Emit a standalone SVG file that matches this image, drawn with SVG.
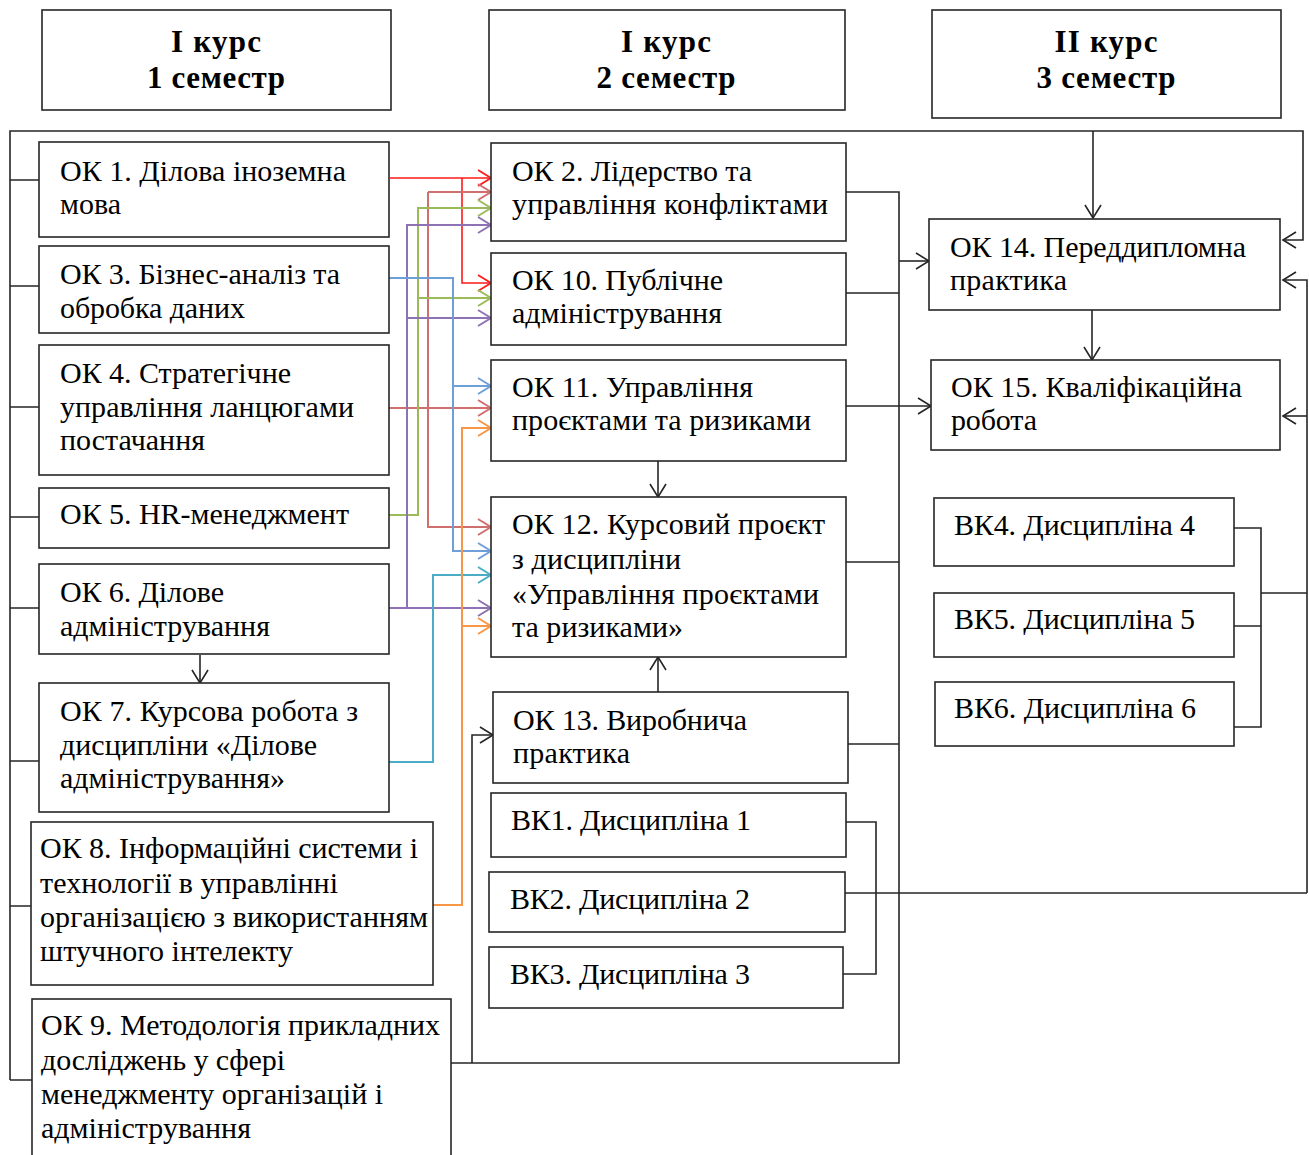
<svg xmlns="http://www.w3.org/2000/svg" width="1309" height="1155" viewBox="0 0 1309 1155">
<style>
.box{fill:#fff;stroke:#262626;stroke-width:1.6}
.t{font-family:"Liberation Serif","Times New Roman",serif;font-size:30px;fill:#000}
.h{font-family:"Liberation Serif","Times New Roman",serif;font-size:31px;font-weight:bold;fill:#000;text-anchor:middle}
.c{fill:none;stroke-width:1.6}
.k{stroke:#262626}
.r{stroke:#ff1a1a;marker-end:url(#ar)}
.dr{stroke:#d0706e;stroke-width:2;marker-end:url(#adr)}
.g{stroke:#9bbb59;stroke-width:2}
.p{stroke:#8e72b4;stroke-width:2}
.b{stroke:#6f9fd8;stroke-width:2}
.cy{stroke:#4bacc6;stroke-width:2}
.o{stroke:#f79646;stroke-width:2}
</style>
<defs>
<marker id="ak" markerUnits="userSpaceOnUse" markerWidth="16" markerHeight="20" refX="14" refY="9" orient="auto"><path d="M1,1 L14,9 L1,17" fill="none" stroke="#262626" stroke-width="1.6"/></marker>
<marker id="ar" markerUnits="userSpaceOnUse" markerWidth="16" markerHeight="20" refX="14" refY="9" orient="auto"><path d="M1,1 L14,9 L1,17" fill="none" stroke="#ff1a1a" stroke-width="1.8"/></marker>
<marker id="adr" markerUnits="userSpaceOnUse" markerWidth="16" markerHeight="20" refX="14" refY="9" orient="auto"><path d="M1,1 L14,9 L1,17" fill="none" stroke="#d0706e" stroke-width="2"/></marker>
<marker id="ag" markerUnits="userSpaceOnUse" markerWidth="16" markerHeight="20" refX="14" refY="9" orient="auto"><path d="M1,1 L14,9 L1,17" fill="none" stroke="#9bbb59" stroke-width="2"/></marker>
<marker id="ap" markerUnits="userSpaceOnUse" markerWidth="16" markerHeight="20" refX="14" refY="9" orient="auto"><path d="M1,1 L14,9 L1,17" fill="none" stroke="#8e72b4" stroke-width="2"/></marker>
<marker id="ab" markerUnits="userSpaceOnUse" markerWidth="16" markerHeight="20" refX="14" refY="9" orient="auto"><path d="M1,1 L14,9 L1,17" fill="none" stroke="#6f9fd8" stroke-width="2"/></marker>
<marker id="acy" markerUnits="userSpaceOnUse" markerWidth="16" markerHeight="20" refX="14" refY="9" orient="auto"><path d="M1,1 L14,9 L1,17" fill="none" stroke="#4bacc6" stroke-width="2"/></marker>
<marker id="ao" markerUnits="userSpaceOnUse" markerWidth="16" markerHeight="20" refX="14" refY="9" orient="auto"><path d="M1,1 L14,9 L1,17" fill="none" stroke="#f79646" stroke-width="2"/></marker>
</defs>
<rect width="1309" height="1155" fill="#fff"/>

<g id="connectors">
  <path class="c k" d="M10,1080 V131 H1303 V240 H1283" marker-end="url(#ak)"/>
  <path class="c k" d="M1093,131 V218" marker-end="url(#ak)"/>
  <path class="c k" d="M10,180 H39 M10,286 H39 M10,407 H39 M10,517 H39 M10,608 H39 M10,761 H39 M10,906 H31 M10,1080 H32"/>
  <path class="c k" d="M1307,893 V280 H1283" marker-end="url(#ak)"/>
  <path class="c k" d="M1307,416 H1283" marker-end="url(#ak)"/>
  <path class="c k" d="M845,893 H1307"/>
  <path class="c k" d="M1234,528 H1261 V727 H1234 M1234,626 H1261 M1261,593 H1307"/>
  <path class="c k" d="M846,192 H899 V1063 H451 M846,293 H899 M846,562 H899 M848,744 H899"/>
  <path class="c k" d="M899,261 H929" marker-end="url(#ak)"/>
  <path class="c k" d="M846,406 H931" marker-end="url(#ak)"/>
  <path class="c k" d="M658,461 V497" marker-end="url(#ak)"/>
  <path class="c k" d="M658,692 V657" marker-end="url(#ak)"/>
  <path class="c k" d="M1092,310 V360" marker-end="url(#ak)"/>
  <path class="c k" d="M200,655 V683" marker-end="url(#ak)"/>
  <path class="c k" d="M846,822 H876 V974 H843"/>
  <path class="c k" d="M472,1063 V735 H493" marker-end="url(#ak)"/>
  <path class="c r" d="M390,178 H491"/>
  <path class="c r" d="M462,178 V283 H491"/>
  <path class="c dr" d="M428,192 H491"/>
  <path class="c dr" d="M428,192 V527 H491"/>
  <path class="c dr" d="M389,408 H491"/>
  <path class="c g" d="M389,515 H418 V208 H491" marker-end="url(#ag)"/>
  <path class="c g" d="M418,298 H491" marker-end="url(#ag)"/>
  <path class="c p" d="M389,608 H491" marker-end="url(#ap)"/>
  <path class="c p" d="M407,608 V225 H491" marker-end="url(#ap)"/>
  <path class="c p" d="M407,318 H491" marker-end="url(#ap)"/>
  <path class="c b" d="M386,278 H453 V551 H491" marker-end="url(#ab)"/>
  <path class="c b" d="M453,386 H491" marker-end="url(#ab)"/>
  <path class="c cy" d="M389,762 H433 V575 H491" marker-end="url(#acy)"/>
  <path class="c o" d="M433,905 H462 V428 H491" marker-end="url(#ao)"/>
  <path class="c o" d="M462,626 H491" marker-end="url(#ao)"/>
</g>

<g id="h1"><rect class="box" x="42" y="10" width="349" height="100"/><text class="h" x="216" y="52" textLength="90">І курс</text><text class="h" x="216" y="88" textLength="138">1 семестр</text></g>
<g id="h2"><rect class="box" x="489" y="10" width="356" height="100"/><text class="h" x="666" y="52" textLength="90">І курс</text><text class="h" x="666" y="88" textLength="139">2 семестр</text></g>
<g id="h3"><rect class="box" x="932" y="10" width="349" height="108"/><text class="h" x="1106" y="52" textLength="103">ІІ курс</text><text class="h" x="1106" y="88" textLength="139">3 семестр</text></g>

<g id="ok1"><rect class="box" x="39" y="142" width="350" height="95"/><text class="t" x="60" y="181" textLength="286">ОК 1. Ділова іноземна</text><text class="t" x="60" y="214">мова</text></g>
<g id="ok3"><rect class="box" x="39" y="246" width="350" height="87"/><text class="t" x="60" y="284" textLength="280">ОК 3. Бізнес-аналіз та</text><text class="t" x="60" y="318" textLength="185">обробка даних</text></g>
<g id="ok4"><rect class="box" x="39" y="345" width="350" height="130"/><text class="t" x="60" y="383" textLength="231">ОК 4. Стратегічне</text><text class="t" x="60" y="417" textLength="294">управління ланцюгами</text><text class="t" x="60" y="450" textLength="145">постачання</text></g>
<g id="ok5"><rect class="box" x="39" y="488" width="350" height="60"/><text class="t" x="60" y="524" textLength="289">ОК 5. HR-менеджмент</text></g>
<g id="ok6"><rect class="box" x="39" y="564" width="350" height="90"/><text class="t" x="60" y="602" textLength="164">ОК 6. Ділове</text><text class="t" x="60" y="636" textLength="210">адміністрування</text></g>
<g id="ok7"><rect class="box" x="39" y="683" width="350" height="129"/><text class="t" x="60" y="721" textLength="298">ОК 7. Курсова робота з</text><text class="t" x="60" y="755" textLength="257">дисципліни «Ділове</text><text class="t" x="60" y="788" textLength="225">адміністрування»</text></g>
<g id="ok8"><rect class="box" x="31" y="822" width="402" height="163"/><text class="t" x="40" y="858" textLength="378">ОК 8. Інформаційні системи і</text><text class="t" x="40" y="893" textLength="298">технології в управлінні</text><text class="t" x="40" y="927" textLength="388">організацією з використанням</text><text class="t" x="40" y="961" textLength="253">штучного інтелекту</text></g>
<g id="ok9"><rect class="box" x="32" y="999" width="419" height="170"/><text class="t" x="41" y="1035" textLength="399">ОК 9. Методологія прикладних</text><text class="t" x="41" y="1070" textLength="244">досліджень у сфері</text><text class="t" x="41" y="1104" textLength="342">менеджменту організацій і</text><text class="t" x="41" y="1138" textLength="210">адміністрування</text></g>

<g id="ok2"><rect class="box" x="491" y="143" width="355" height="98"/><text class="t" x="512" y="181" textLength="240">ОК 2. Лідерство та</text><text class="t" x="512" y="214" textLength="316">управління конфліктами</text></g>
<g id="ok10"><rect class="box" x="491" y="253" width="355" height="92"/><text class="t" x="512" y="290" textLength="211">ОК 10. Публічне</text><text class="t" x="512" y="323" textLength="210">адміністрування</text></g>
<g id="ok11"><rect class="box" x="491" y="360" width="355" height="101"/><text class="t" x="512" y="397" textLength="241">ОК 11. Управління</text><text class="t" x="512" y="430" textLength="299">проєктами та ризиками</text></g>
<g id="ok12"><rect class="box" x="491" y="497" width="355" height="160"/><text class="t" x="512" y="534" textLength="313">ОК 12. Курсовий проєкт</text><text class="t" x="512" y="569" textLength="169">з дисципліни</text><text class="t" x="512" y="604" textLength="307">«Управління проєктами</text><text class="t" x="512" y="637" textLength="171">та ризиками»</text></g>
<g id="ok13"><rect class="box" x="493" y="692" width="355" height="91"/><text class="t" x="513" y="730" textLength="234">ОК 13. Виробнича</text><text class="t" x="513" y="763" textLength="117">практика</text></g>
<g id="vk1"><rect class="box" x="491" y="793" width="355" height="64"/><text class="t" x="511" y="830" textLength="240">ВК1. Дисципліна 1</text></g>
<g id="vk2"><rect class="box" x="489" y="872" width="356" height="60"/><text class="t" x="510" y="909" textLength="240">ВК2. Дисципліна 2</text></g>
<g id="vk3"><rect class="box" x="489" y="947" width="354" height="61"/><text class="t" x="510" y="984" textLength="240">ВК3. Дисципліна 3</text></g>

<g id="ok14"><rect class="box" x="929" y="219" width="351" height="91"/><text class="t" x="950" y="257" textLength="296">ОК 14. Переддипломна</text><text class="t" x="950" y="290" textLength="117">практика</text></g>
<g id="ok15"><rect class="box" x="931" y="360" width="349" height="90"/><text class="t" x="951" y="397" textLength="291">ОК 15. Кваліфікаційна</text><text class="t" x="951" y="430" textLength="86">робота</text></g>
<g id="vk4"><rect class="box" x="934" y="498" width="300" height="68"/><text class="t" x="954" y="535" textLength="241">ВК4. Дисципліна 4</text></g>
<g id="vk5"><rect class="box" x="934" y="593" width="300" height="64"/><text class="t" x="954" y="629" textLength="241">ВК5. Дисципліна 5</text></g>
<g id="vk6"><rect class="box" x="935" y="682" width="299" height="64"/><text class="t" x="954" y="718" textLength="242">ВК6. Дисципліна 6</text></g>
</svg>
